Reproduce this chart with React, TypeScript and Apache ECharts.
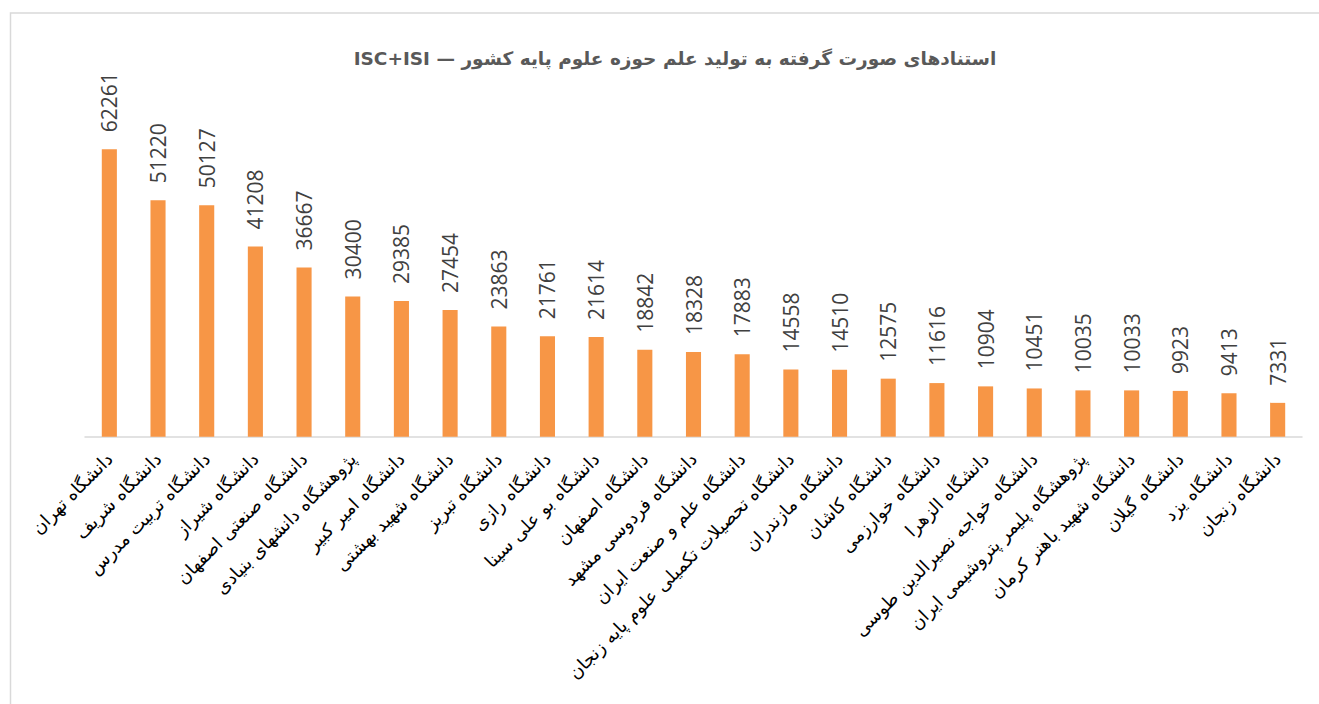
import React, { useEffect, useRef } from "react";
import * as echarts from "echarts";

const titleText = "ISC+ISI — استنادهای صورت گرفته به تولید علم حوزه علوم پایه کشور";

const categories = [
  "دانشگاه تهران",
  "دانشگاه شریف",
  "دانشگاه تربیت مدرس",
  "دانشگاه شیراز",
  "دانشگاه صنعتی اصفهان",
  "پژوهشگاه دانشهای بنیادی",
  "دانشگاه امیر کبیر",
  "دانشگاه شهید بهشتی",
  "دانشگاه تبریز",
  "دانشگاه رازی",
  "دانشگاه بو علی سینا",
  "دانشگاه اصفهان",
  "دانشگاه فردوسی مشهد",
  "دانشگاه علم و صنعت ایران",
  "دانشگاه تحصیلات تکمیلی علوم پایه زنجان",
  "دانشگاه مازندران",
  "دانشگاه کاشان",
  "دانشگاه خوارزمی",
  "دانشگاه الزهرا",
  "دانشگاه خواجه نصیرالدین طوسی",
  "پژوهشگاه پلیمر پتروشیمی ایران",
  "دانشگاه شهید باهنر کرمان",
  "دانشگاه گیلان",
  "دانشگاه یزد",
  "دانشگاه زنجان",
];

const citations = [
  62261, 51220, 50127, 41208, 36667, 30400, 29385, 27454, 23863, 21761, 21614,
  18842, 18328, 17883, 14558, 14510, 12575, 11616, 10904, 10451, 10035, 10033,
  9923, 9413, 7331,
];

export default function App() {
  const ref = useRef<HTMLDivElement>(null);
  useEffect(() => {
    if (!ref.current) return;
    const chart = echarts.init(ref.current, undefined, { renderer: "svg" });
    chart.setOption({
      animation: false,
      backgroundColor: "#ffffff",
      graphic: [
        {
          type: "rect",
          shape: { x: 10.5, y: 13, width: 1400, height: 800 },
          style: { fill: "none", stroke: "#d9d9d9", lineWidth: 1.5 },
          silent: true,
        },
      ],
      title: {
        text: titleText,
        left: 670,
        top: 44,
        textAlign: "center",
        textStyle: {
          fontSize: 18.5,
          fontWeight: "bold",
          color: "#595959",
          fontFamily: "DejaVu Sans",
        },
      },
      grid: { left: 85, right: 17, top: 113.6, bottom: 267.3, containLabel: false },
      xAxis: {
        type: "category",
        data: categories,
        axisTick: { show: false },
        axisLine: { lineStyle: { color: "#d9d9d9", width: 1.5 } },
        axisLabel: {
          interval: 0,
          rotate: 45,
          margin: 19,
          fontSize: 18,
          color: "#000000",
          fontFamily: "DejaVu Sans",
        },
      },
      yAxis: {
        type: "value",
        min: 0,
        max: 70000,
        show: false,
        splitLine: { show: false },
      },
      series: [
        {
          type: "bar",
          data: citations,
          barWidth: "31%",
          itemStyle: { color: "#F79646" },
          label: {
            show: true,
            position: "top",
            rotate: 90,
            align: "left",
            verticalAlign: "middle",
            distance: 17,
            fontSize: 21,
            color: "#404040",
            fontFamily: "Open Sans",
          },
        },
      ],
    });
    return () => chart.dispose();
  }, []);
  return (
    <div
      ref={ref}
      style={{ position: "absolute", left: 0, top: 0, width: 1319, height: 704 }}
    />
  );
}
